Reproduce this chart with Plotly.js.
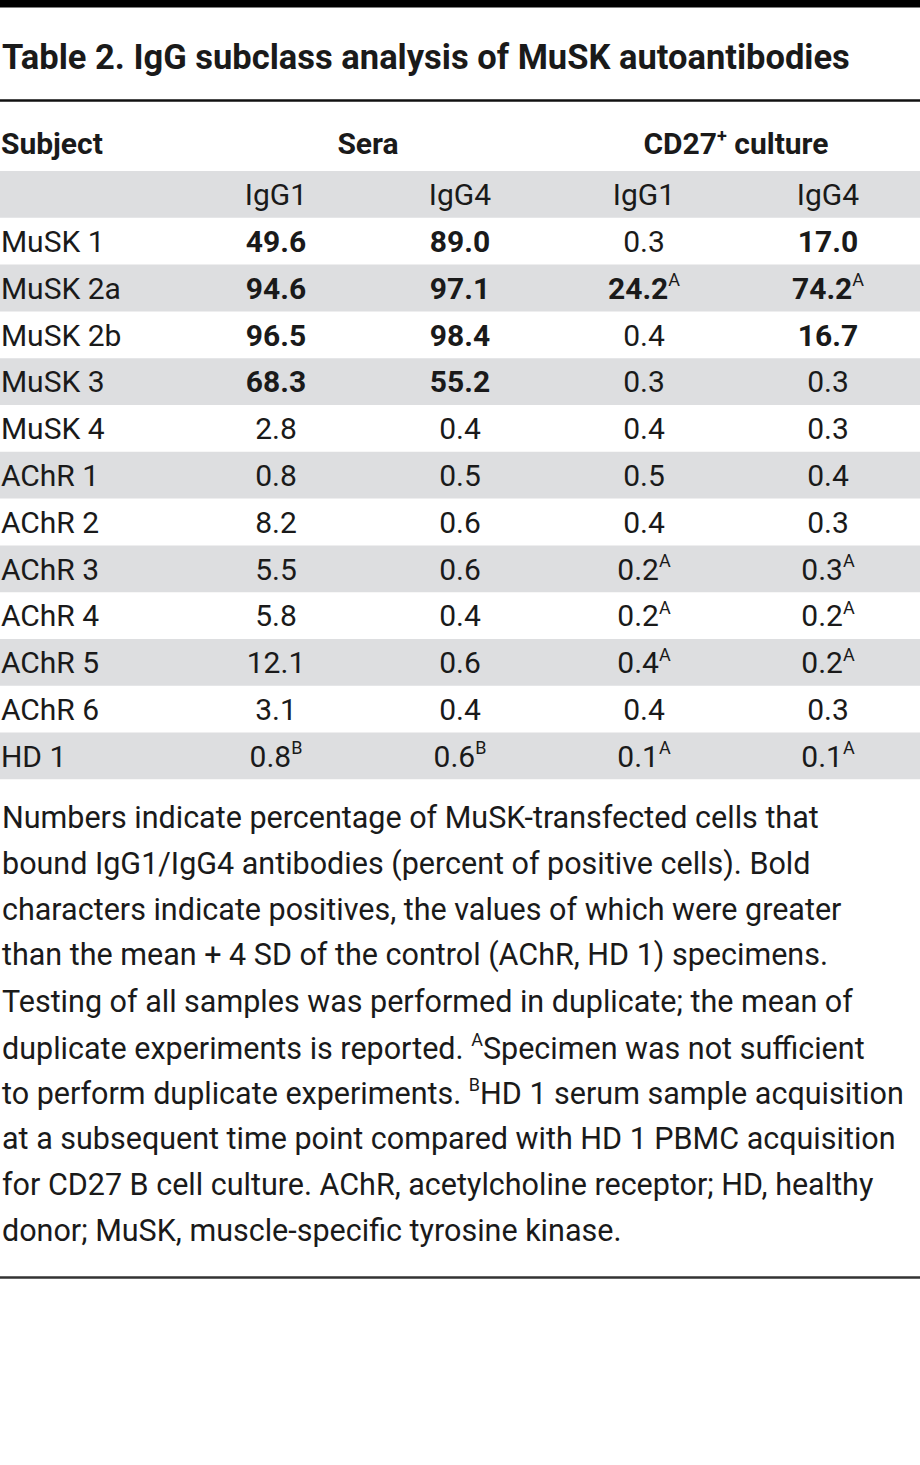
<!DOCTYPE html>
<html>
<head>
<meta charset="utf-8">
<script src="https://cdn.plot.ly/plotly-3.0.1.min.js"></script>
<style>
  body { margin: 0; overflow: hidden; background: #fff; }
  #chart { width: 920px; height: 1465px; }
</style>
</head>
<body>
<div id="chart"></div>
<script>
// Table data
const subjects = ['MuSK 1', 'MuSK 2a', 'MuSK 2b', 'MuSK 3', 'MuSK 4', 'AChR 1', 'AChR 2',
                  'AChR 3', 'AChR 4', 'AChR 5', 'AChR 6', 'HD 1'];
const seraIgG1 = [49.6, 94.6, 96.5, 68.3, 2.8, 0.8, 8.2, 5.5, 5.8, 12.1, 3.1, 0.8];
const seraIgG4 = [89.0, 97.1, 98.4, 55.2, 0.4, 0.5, 0.6, 0.6, 0.4, 0.6, 0.4, 0.6];
const cultureIgG1 = [0.3, 24.2, 0.4, 0.3, 0.4, 0.5, 0.4, 0.2, 0.2, 0.4, 0.4, 0.1];
const cultureIgG4 = [17.0, 74.2, 16.7, 0.3, 0.3, 0.4, 0.3, 0.3, 0.2, 0.2, 0.3, 0.1];

// positives (printed bold)
const seraIgG1Bold = [1, 1, 1, 1, 0, 0, 0, 0, 0, 0, 0, 0];
const seraIgG4Bold = [1, 1, 1, 1, 0, 0, 0, 0, 0, 0, 0, 0];
const cultureIgG1Bold = [0, 1, 0, 0, 0, 0, 0, 0, 0, 0, 0, 0];
const cultureIgG4Bold = [1, 1, 1, 0, 0, 0, 0, 0, 0, 0, 0, 0];

// footnote marks
const seraNotes = ['', '', '', '', '', '', '', '', '', '', '', 'B'];
const cultureNotes = ['', 'A', '', '', '', '', '', 'A', 'A', 'A', '', 'A'];

const subclassLabels = ['IgG1', 'IgG4', 'IgG1', 'IgG4'];

// small superscript mark
function note(n) {
    return n ? '<sup><span style="font-size:18px">' + n + '</span></sup>' : '';
}

const groupLabels = ['<b>Sera</b>', '<b>CD27' + note('+') + ' culture</b>'];
const titleText = '<b>Table 2. IgG subclass analysis of MuSK autoantibodies</b>';
const footnoteLines = [
    'Numbers indicate percentage of MuSK-transfected cells that',
    'bound IgG1/IgG4 antibodies (percent of positive cells). Bold',
    'characters indicate positives, the values of which were greater',
    'than the mean + 4 SD of the control (AChR, HD 1) specimens.',
    'Testing of all samples was performed in duplicate; the mean of',
    'duplicate experiments is reported. ' + note('A') + 'Specimen was not sufficient',
    'to perform duplicate experiments. ' + note('B') + 'HD 1 serum sample acquisition',
    'at a subsequent time point compared with HD 1 PBMC acquisition',
    'for CD27 B cell culture. AChR, acetylcholine receptor; HD, healthy',
    'donor; MuSK, muscle-specific tyrosine kinase.'
];

// Layout helpers
const W = 920, H = 1465;
const py = y => 1 - y / H;
const ROW_H = 46.8;
const TABLE_TOP = 124.2;            // top of "Subject" header row
const NROWS = subjects.length + 2;  // header, subclass row, data rows
const TEXT_DY = 0.07;               // nudge row text down a little

const FONT = 'Roboto, sans-serif';
const INK = '#1a1a1a';
const GRAY = '#dddee0';

function fmt(v, bold, n) {
    let s = v.toFixed(1);
    if (bold) s = '<b>' + s + '</b>';
    return s + note(n);
}

const columns = [
    seraIgG1.map((v, i) => fmt(v, seraIgG1Bold[i], seraNotes[i])),
    seraIgG4.map((v, i) => fmt(v, seraIgG4Bold[i], seraNotes[i])),
    cultureIgG1.map((v, i) => fmt(v, cultureIgG1Bold[i], cultureNotes[i])),
    cultureIgG4.map((v, i) => fmt(v, cultureIgG4Bold[i], cultureNotes[i]))
];

const cellX = [], cellY = [], cellText = [];
columns.forEach((col, k) => {
    cellX.push(k + 1); cellY.push(TEXT_DY); cellText.push(subclassLabels[k]);
    col.forEach((t, i) => {
        cellX.push(k + 1); cellY.push(i + 1 + TEXT_DY); cellText.push(t);
    });
});

const textFont = { family: FONT, size: 30, color: INK };

const subjectTrace = {
    type: 'scatter', mode: 'text',
    x: [-0.495].concat(subjects.map(() => -0.495)),
    y: [-1.02].concat(subjects.map((_, i) => i + 1 + TEXT_DY)),
    text: ['<b>Subject</b>'].concat(subjects),
    textposition: 'middle right',
    textfont: textFont,
    cliponaxis: false,
    hoverinfo: 'skip'
};

const groupTrace = {
    type: 'scatter', mode: 'text',
    x: [1.5, 3.5],
    y: [-1.02, -1.02],
    text: groupLabels,
    textposition: 'middle center',
    textfont: textFont,
    cliponaxis: false,
    hoverinfo: 'skip'
};

const cellTrace = {
    type: 'scatter', mode: 'text',
    x: cellX, y: cellY, text: cellText,
    textposition: 'middle center',
    textfont: textFont,
    cliponaxis: false,
    hoverinfo: 'skip'
};

// shaded rows: subclass row and every other data row
const shapes = [];
for (let r = 0; r <= subjects.length; r += 2) {
    shapes.push({
        type: 'rect', xref: 'paper', yref: 'y', layer: 'below',
        x0: 0, x1: 1, y0: r - 0.5, y1: r + 0.5,
        fillcolor: GRAY, line: { width: 0 }
    });
}
shapes.push(
    { type: 'rect', xref: 'paper', yref: 'paper', x0: 0, x1: 1, y0: py(0), y1: py(7.5),
      fillcolor: '#000000', line: { width: 0 } },
    { type: 'line', xref: 'paper', yref: 'paper', x0: 0, x1: 1, y0: py(100.5), y1: py(100.5),
      line: { color: '#111111', width: 2.5 } },
    { type: 'line', xref: 'paper', yref: 'paper', x0: 0, x1: 1, y0: py(1277.5), y1: py(1277.5),
      line: { color: '#333333', width: 2.5 } }
);

const annotations = [{
    text: titleText, xref: 'paper', yref: 'paper', x: 0, y: py(57),
    xanchor: 'left', yanchor: 'middle', showarrow: false,
    font: { family: FONT, size: 34.5, color: INK }
}];

footnoteLines.forEach((line, i) => {
    annotations.push({
        text: line, xref: 'paper', yref: 'paper', x: 0, y: py(818 + i * 45.8),
        xanchor: 'left', yanchor: 'middle', showarrow: false,
        font: { family: FONT, size: 30.5, color: INK }
    });
});

const layout = {
    width: W,
    height: H,
    margin: { l: 0, r: 0, t: 0, b: 0 },
    paper_bgcolor: '#ffffff',
    plot_bgcolor: 'rgba(0,0,0,0)',
    showlegend: false,
    xaxis: { range: [-0.5, 4.5], visible: false, fixedrange: true },
    yaxis: {
        range: [NROWS - 1.5, -1.5],
        domain: [py(TABLE_TOP + NROWS * ROW_H), py(TABLE_TOP)],
        visible: false, fixedrange: true
    },
    annotations: annotations,
    shapes: shapes
};

Plotly.newPlot('chart', [subjectTrace, groupTrace, cellTrace], layout,
               { displayModeBar: false, staticPlot: true });
</script>
</body>
</html>
